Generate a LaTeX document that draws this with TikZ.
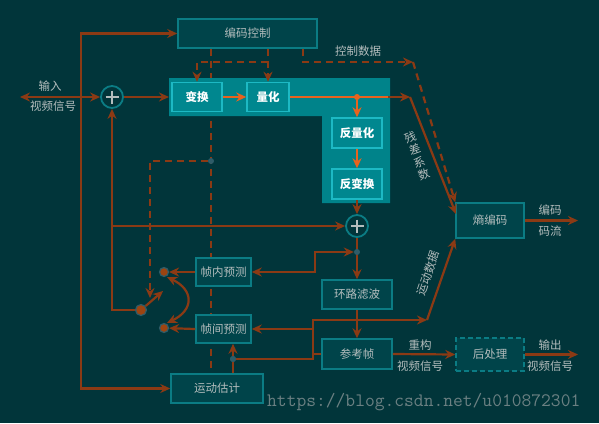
\documentclass[tikz,border=0pt]{standalone}
\usepackage{fontspec}
\setmainfont{Noto Sans CJK SC}
\usetikzlibrary{arrows.meta,calc}
\pgfdeclarelayer{back}
\pgfsetlayers{back,main}
\definecolor{bg}{HTML}{01353A}
\definecolor{boxfill}{HTML}{00444A}
\definecolor{boxline}{HTML}{0B7C84}
\definecolor{regfill}{HTML}{00838A}
\definecolor{inbox}{HTML}{00878F}
\definecolor{inline}{HTML}{1DB9C4}
\definecolor{brn}{HTML}{8B3A14}
\definecolor{org}{HTML}{E8631E}
\definecolor{txt}{HTML}{B4BDBD}
\definecolor{dotc}{HTML}{2E5C68}
\definecolor{wmc}{HTML}{6B8082}
\begin{document}
\begin{tikzpicture}[x=1pt,y=-1pt,
  >={Stealth[length=10pt,width=9pt]},
  font=\fontsize{11.5}{13}\selectfont,
  obox/.style={draw=boxline, line width=1.5pt, fill=boxfill, text=txt, inner sep=0pt},
  ibox/.style={draw=inline, line width=1.5pt, fill=inbox, text=white, inner sep=0pt, font=\fontsize{11.5}{13}\selectfont\bfseries},
  ln/.style={draw=brn, line width=2.2pt},
  arr/.style={ln, ->},
  oln/.style={draw=org, line width=2.2pt},
  oarr/.style={oln, ->},
  dsh/.style={draw=brn, line width=2.2pt, dash pattern=on 7pt off 5pt},
  lbl/.style={text=txt, inner sep=0pt},
  jdot/.style={circle, fill=dotc, inner sep=0pt, minimum size=6pt},
  sdot/.style={circle, fill=brn!85!orange, draw=dotc, line width=1.2pt, inner sep=0pt, minimum size=9pt},
  adder/.style={circle, draw=boxline, line width=1.8pt, fill=bg, minimum size=22pt, inner sep=0pt}
]
\useasboundingbox (0,0) rectangle (599,423);
% transform / quantisation region
\fill[regfill] (169,78) -- (390,78) -- (390,203) -- (322,203) -- (322,116) -- (169,116) -- cycle;

% boxes
\node[obox, minimum width=139pt, minimum height=29pt] (ctrl) at (247.5,33.5) {编码控制};
\node[ibox, minimum width=50pt, minimum height=29pt] (bh) at (197,97) {变换};
\node[ibox, minimum width=42pt, minimum height=29pt] (lh) at (268,97) {量化};
\node[ibox, minimum width=50pt, minimum height=30pt] (flh) at (357,133) {反量化};
\node[ibox, minimum width=50pt, minimum height=30pt] (fbh) at (357,184) {反变换};
\node[adder] (add1) at (112,97) {};
\node[adder] (add2) at (357,226) {};
\node[obox, minimum width=68pt, minimum height=35pt] (sh) at (490,220.5) {熵编码};
\node[obox, minimum width=70pt, minimum height=29pt] (lf) at (357,294.5) {环路滤波};
\node[obox, minimum width=70pt, minimum height=30pt] (ref) at (357,354) {参考帧};
\node[obox, dashed, dash pattern=on 5pt off 3pt, minimum width=68pt, minimum height=33pt] (post) at (490,354.5) {后处理};
\node[obox, minimum width=55pt, minimum height=28pt] (intra) at (223.5,272) {帧内预测};
\node[obox, minimum width=55pt, minimum height=28pt] (inter) at (223.5,329) {帧间预测};
\node[obox, minimum width=92pt, minimum height=29pt] (me) at (217,388.5) {运动估计};

% plus signs
\foreach \a in {add1,add2}{
  \draw[txt, line width=2pt] ($(\a)+(-6.5,0)$) -- ($(\a)+(6.5,0)$) ($(\a)+(0,-6.5)$) -- ($(\a)+(0,6.5)$);
}

% coordinates
\coordinate (inL) at (20,97);
\coordinate (c81) at (81,97);
\coordinate (regL) at (169,97);
\coordinate (regR) at (388,97);
\coordinate (cr) at (410,97);
\coordinate (shin) at (456,214);
\coordinate (c112) at (112,226);
\coordinate (k1) at (315,252);
\coordinate (swt) at (163,291);
\coordinate (m1) at (313,354);
\coordinate (m2) at (313,320);
\coordinate (cm) at (427,320);
\coordinate (q1) at (150,161);
\coordinate (q2) at (150,298);
\coordinate (p1) at (268,62);
\coordinate (p2) at (303,62);
\coordinate (cd) at (413,62);
\coordinate (ca) at (167,277);
\coordinate (cb) at (167,323);
\coordinate (o1) at (578,220.5);
\coordinate (o2) at (578,354.5);

% junction dots
\node[circle, fill=org, inner sep=0pt, minimum size=6pt] (jo) at (357,97) {};
\node[jdot] (j1) at (211,161) {};

% dashed control lines
\begin{pgfonlayer}{back}
  \fill[bg] (0,0) rectangle (599,423);
  \draw[dsh] (ctrl.south -| j1) -- (me.north -| j1);
\end{pgfonlayer}
\draw[dsh,->] (j1) -- (q1) -- (q2);
\draw[dsh,->] (ctrl.south -| lh) -- (lh.north);
\draw[dsh,->] (p1) -| (bh.north);
\draw[dsh,->] (ctrl.south -| p2) -- (p2) -- (cd);
\draw[dsh,->] (cd) -- (sh.north west);

% solid connectors
\draw[arr] (c81) |- (ctrl.west);
\draw[arr] (c81) |- (me.west);
\draw[ln,<->] (inL) -- (add1.west);
\draw[arr] (add1.east) -- (regL);
\draw[oarr] (bh.east) -- (lh.west);
\draw[oln] (lh.east) -- (regR);
\draw[arr] (regR) -- (cr);
\draw[arr] (cr) -- (shin);
\draw[oarr] (jo) -- (flh.north);
\draw[oarr] (flh.south) -- (fbh.north);
\draw[arr] (fbh.south) -- (add2.north);
\node[sdot, minimum size=11pt] (sw) at (141,310) {};
\node[sdot] (sa) at (164,272) {};
\node[sdot] (sb) at (164,328) {};
\draw[arr] (sw) -| (add1.south);
\draw[arr] (c112) -- (add2.west);
\draw[arr] (add2.south) -- (lf.north);
\node[jdot] (j2) at (357,252) {};
\draw[ln,<->] (intra.east) -| (k1) -- (j2.west);
\draw[arr] (intra.west) -- (sa);
\draw[arr] (inter.west) -- (sb);
\draw[arr] (sw) -- (swt);
\draw[ln,<->] (ca) .. controls (194,290) and (194,310) .. (cb);
\draw[arr] (lf.south) -- (ref.north);
\draw[arr] (ref.west) -- (m1) -- (m2) -- (cm);
\draw[arr] (cm) -- (sh.south west);
\draw[arr] (inter.east -| m1) -- (inter.east);
\node[jdot] (j3) at (233,359) {};
\draw[ln] (m1) |- (j3);
\draw[arr] (j3 |- me.north) -- (inter.south -| j3);
\node[jdot] (j3b) at (233,359) {};
\draw[arr] (ref.east) -- (post.west);
\draw[arr] (post.east) -- (o2);
\draw[arr] (sh.east) -- (o1);

% labels
\node[lbl] (t1) at (50,86) {输入};
\node[lbl] (t2) at (53,106) {视频信号};
\node[lbl] (t3) at (358,51) {控制数据};
\node[lbl, align=center, rotate=20, font=\fontsize{11.5}{13}\selectfont] (t4) at (417,156) {残\\差\\系\\数};
\node[lbl, rotate=71] (t5) at (428,273) {运动数据};
\node[lbl] (t6) at (550,210) {编码};
\node[lbl] (t7) at (550,231) {码流};
\node[lbl] (t8) at (420,345) {重构};
\node[lbl] (t9) at (420,366) {视频信号};
\node[lbl] (t10) at (550,345) {输出};
\node[lbl] (t11) at (550,366) {视频信号};
\node[text=wmc, font=\fontsize{19}{20}\selectfont\ttfamily, anchor=west, inner sep=0pt] (wm) at (267,402) {https://blog.csdn.net/u010872301};
\end{tikzpicture}
\end{document}
